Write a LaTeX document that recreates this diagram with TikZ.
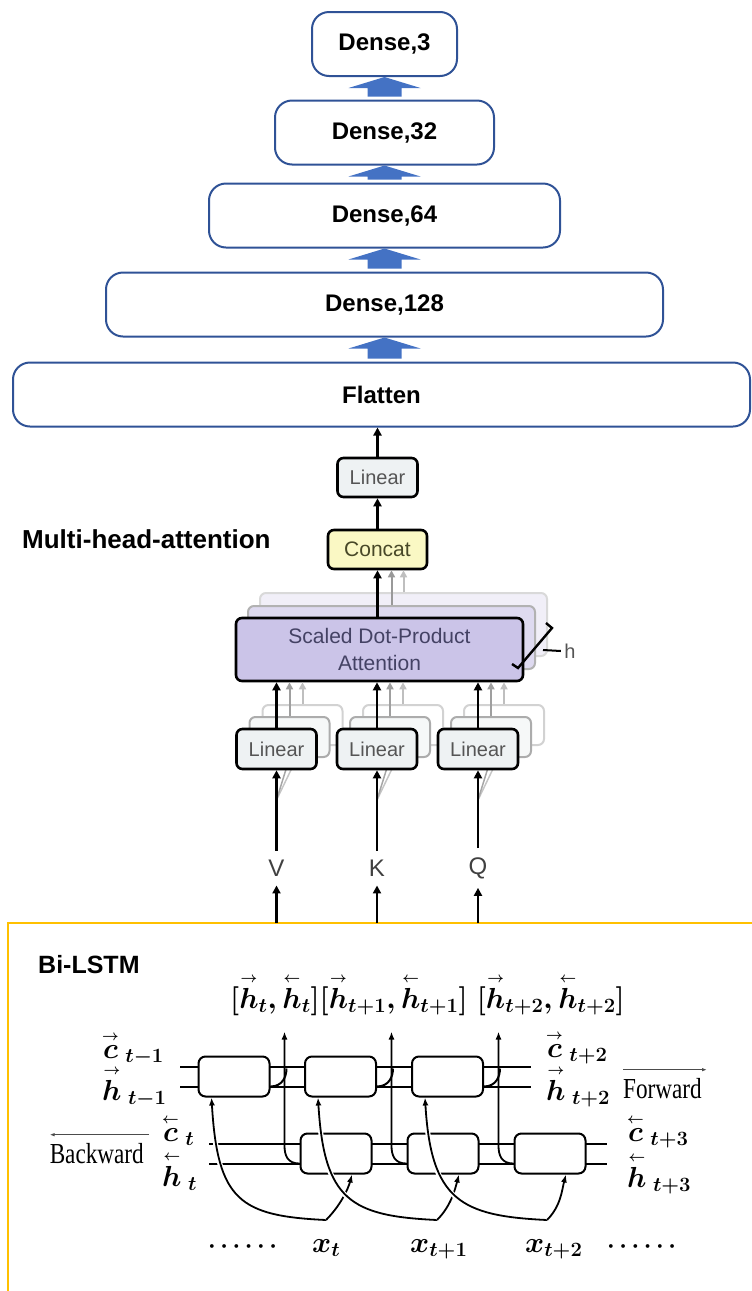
\RequirePackage{fix-cm}
\documentclass[tikz,border=0pt]{standalone}
\usepackage{amsmath}
\usepackage[no-math]{fontspec}
\newfontfamily\arialfont{Liberation Sans}
\newfontfamily\serifcond[FakeStretch=0.8]{Liberation Serif}
\usetikzlibrary{positioning,calc,arrows.meta}

\definecolor{densebord}{RGB}{47,82,150}
\definecolor{arrblue}{RGB}{68,114,196}
\definecolor{lstmorange}{RGB}{255,192,0}
\definecolor{attfill}{RGB}{203,196,232}
\definecolor{attfillb}{RGB}{222,218,240}
\definecolor{attfillc}{RGB}{241,239,248}
\definecolor{linfill}{RGB}{238,242,243}
\definecolor{linfillb}{RGB}{246,248,248}
\definecolor{catfill}{RGB}{250,248,196}
\definecolor{lintext}{RGB}{85,85,85}
\definecolor{cattext}{RGB}{72,72,40}
\definecolor{atttext}{RGB}{68,66,100}

% short direction arrows over a letter
\newcommand\fw[1]{{\overset{\scriptscriptstyle\rightarrow}{#1}}}
\newcommand\bw[1]{{\overset{\scriptscriptstyle\leftarrow}{#1}}}

\begin{document}
\begin{tikzpicture}[x=1pt,y=-1pt,on grid,
    densebox/.style={draw=densebord,line width=2pt,rounded corners=17pt,minimum height=64pt,inner sep=0pt,
      font=\arialfont\bfseries\fontsize{24}{28}\selectfont},
    tbox/.style={draw,line width=2.6pt,rounded corners=6pt,inner sep=0pt},
    linbox/.style={tbox,fill=linfill,minimum width=80pt,minimum height=40pt,text=lintext,
      font=\arialfont\fontsize{20}{24}\selectfont},
    attbox/.style={tbox,fill=attfill,minimum width=287pt,minimum height=63pt,align=center,text=atttext,
      font=\arialfont\fontsize{21}{27}\selectfont},
    backone/.style={draw=gray!60,line width=2pt,fill=attfillb},
    backtwo/.style={draw=gray!30,line width=2pt,fill=attfillc},
    linone/.style={draw=gray!65,line width=2pt,fill=linfillb},
    lintwo/.style={draw=gray!35,line width=2pt,fill=white},
    vkq/.style={inner sep=9pt,text=black!75,font=\arialfont\fontsize{24}{28}\selectfont},
    tarrow/.style={line width=2.4pt,-{Triangle[length=8pt,width=8pt]}},
    garrow/.style={line width=2pt,-{Triangle[length=7pt,width=7pt]}},
    lstmcell/.style={draw,fill=white,line width=2pt,rounded corners=7pt,minimum width=71pt,minimum height=40pt},
    lline/.style={line width=2pt},
    inarrow/.style={line width=1.8pt,-{Latex[length=8pt,width=6pt]},
      preaction={draw=white,line width=5pt,-,shorten >=12pt}},
    oarrow/.style={line width=1.8pt,-{Latex[length=8pt,width=6pt]}},
    mathlab/.style={inner sep=0pt,font=\fontsize{29}{34}\selectfont\boldmath},
    dirlab/.style={inner sep=0pt,font=\serifcond\fontsize{29}{34}\selectfont},
    dirarrow/.style={line width=1.3pt,draw=black!70,-{Latex[length=5pt,width=3.5pt]}},
    title/.style={inner sep=0pt,font=\arialfont\bfseries\fontsize{26}{30}\selectfont}]
\useasboundingbox (0,0) rectangle (752,1291);

% dense head
\node[densebox,minimum width=737pt] (flat) at (381.5,394.5) {Flatten};
\node[densebox,minimum width=557pt,above=90pt of flat,xshift=3pt] (d128) {Dense,128};
\node[densebox,minimum width=351pt,above=89pt of d128] (d64) {Dense,64};
\node[densebox,minimum width=219pt,above=83pt of d64] (d32) {Dense,32};
\node[densebox,minimum width=145pt,above=88.5pt of d32] (d3) {Dense,3};
\foreach \lo/\hi in {flat/d128,d128/d64,d64/d32,d32/d3}
  \fill[arrblue] ($(\hi.south |- \lo.north)+(-17,-3)$) -- ($(\hi.south)+(-17,11)$)
    -- ($(\hi.south)+(-36,11)$) -- (\hi.south) -- ($(\hi.south)+(36,11)$)
    -- ($(\hi.south)+(17,11)$) -- ($(\hi.south |- \lo.north)+(17,-3)$) -- cycle;

% multi-head attention
\node[title,anchor=base west] (mha) at (22,548) {Multi-head-attention};
\coordinate (attc) at (379.5,649.5);
\node[attbox,backtwo] (att2) at ($(attc)+(24,-25)$) {};
\node[attbox,backone] (att1) at ($(attc)+(12,-12)$) {};
\node[attbox] (att) at (attc) {Scaled Dot-Product\\Attention};
\node[tbox,fill=catfill,minimum width=99pt,minimum height=39pt,text=cattext,
  font=\arialfont\fontsize{21}{25}\selectfont,above=100pt of att,xshift=-2pt] (concat) {Concat};
\node[linbox,minimum height=39pt,above=72pt of concat] (lintop) {Linear};

\draw[tarrow] (lintop.north) -- (lintop.north |- flat.south);
\draw[tarrow] (concat.north) -- (concat.north |- lintop.south);
\draw[garrow,gray!50] (att2.north) -- (att2.north |- concat.south);
\draw[garrow,gray!80] (att1.north) -- (att1.north |- concat.south);
\draw[tarrow] (concat.south |- att.north) -- (concat.south);

% h heads
\draw[line width=2.4pt] (546,623) -- (552,628) -- (518,668) -- (512,664);
\node[text=lintext,font=\arialfont\fontsize{20}{24}\selectfont] (hnum) at (570,651) {h};
\draw[line width=2pt] (543,650) -- (hnum.west);

% bi-lstm frame
\coordinate (lstmtop) at (0,923);
\draw[lstmorange,line width=2.2pt] (752,923) -- (8,923) -- (8,1291);

\foreach \n/\x in {V/276.5,K/377,Q/478} {
  \node[linbox,lintwo] (lin\n2) at (\x+26,725) {};
  \node[linbox,linone] (lin\n1) at (\x+13,737) {};
  \draw[gray!45,line width=1.5pt] (\x,800) -- (lin\n2.south);
  \draw[gray!70,line width=1.5pt] (\x,800) -- (lin\n1.south);
  \node[linbox] (lin\n) at (\x,749) {Linear};
  \node[vkq] (lab\n) at (\x,868) {\n};
  \draw[tarrow] (lab\n.north) -- (lin\n.south);
  \draw[garrow,gray!50] (lin\n2.north) -- (lin\n2.north |- att.south);
  \draw[garrow,gray!75] (lin\n1.north) -- (lin\n1.north |- att.south);
  \draw[tarrow] (lin\n.north) -- (lin\n.north |- att.south);
  \draw[tarrow] (lab\n |- lstmtop) -- (lab\n.south);
}

% bi-lstm
\node[title,font=\arialfont\bfseries\fontsize{25}{30}\selectfont,anchor=base west] (bilstm) at (38,973) {Bi-LSTM};
\coordinate (fin) at (180,1076.5);
\coordinate (fout) at (531,1076.5);
\coordinate (bin) at (209,1153.5);
\coordinate (bout) at (607,1153.5);
\foreach \d in {-10,10} {
  \draw[lline] ($(fin)+(0,\d)$) -- ($(fout)+(0,\d)$);
  \draw[lline] ($(bin)+(0,\d)$) -- ($(bout)+(0,\d)$);
}
\node[lstmcell] (f1) at (234,1076.5) {};
\node[lstmcell,right=106.5pt of f1] (f2) {};
\node[lstmcell,right=107pt of f2] (f3) {};
\node[lstmcell] (b1) at (336,1153.5) {};
\node[lstmcell,right=107pt of b1] (b2) {};
\node[lstmcell,right=107pt of b2] (b3) {};

\node[mathlab,anchor=base] (hcat) at (427.5,1008)
  {$[\fw{h}_t,\bw{h}_t][\fw{h}_{t+1},\bw{h}_{t+1}]\;[\fw{h}_{t+2},\bw{h}_{t+2}]$};

\node[mathlab,anchor=base west] (cfa) at (102,1058) {$\fw{c}_{\;t-1}$};
\node[mathlab,anchor=base west] (hfa) at (102,1100) {$\fw{h}_{\;t-1}$};
\node[mathlab,anchor=base west] (cba) at (162,1141) {$\bw{c}_{\;t}$};
\node[mathlab,anchor=base west] (hba) at (162,1186) {$\bw{h}_{\;t}$};
\node[mathlab,anchor=base west] (cfb) at (546,1057) {$\fw{c}_{\;t+2}$};
\node[mathlab,anchor=base west] (hfb) at (546,1100) {$\fw{h}_{\;t+2}$};
\node[mathlab,anchor=base west] (cbb) at (627,1141) {$\bw{c}_{\;t+3}$};
\node[mathlab,anchor=base west] (hbb) at (627,1187) {$\bw{h}_{\;t+3}$};

\node[dirlab,anchor=base west] (fwd) at (623,1098) {Forward};
\draw[dirarrow] ([yshift=8pt]fwd.north west) -- ([yshift=8pt,xshift=5pt]fwd.north east);
\node[dirlab,anchor=base east] (bwd) at (144,1163) {Backward};
\draw[dirarrow] ([yshift=8pt,xshift=5pt]bwd.north east) -- ([yshift=8pt]bwd.north west);

\node[mathlab,font=\fontsize{24}{28}\selectfont\boldmath,anchor=base] (dl) at (245,1252) {$\cdots\cdots$};
\node[mathlab,anchor=base west] (x1) at (312,1252) {$x_t$};
\node[mathlab,anchor=base west] (x2) at (410,1252) {$x_{t+1}$};
\node[mathlab,anchor=base west] (x3) at (525,1252) {$x_{t+2}$};
\node[mathlab,font=\fontsize{24}{28}\selectfont\boldmath,anchor=base] (dr) at (644,1252) {$\cdots\cdots$};

\coordinate (a1) at (326,1220);
\coordinate (a2) at (437,1220);
\coordinate (a3) at (547,1220);

\foreach \i in {1,2,3} {
  \coordinate (o\i) at ($(b\i.west)+(-15,-122)$);
  \draw[inarrow] (a\i) .. controls +(-86,-4) and +(6,103) .. ($(f\i.south west)+(14,0)$);
  \draw[inarrow] (a\i) .. controls +(14,-14) and +(-4,15) .. ($(b\i.south)+(16,0)$);
  \draw[lline] ($(f\i.east)+(0,10)$) .. controls +(12,0) and +(0,8) .. ($(f\i.east)+(16,-8)$);
  \draw[oarrow] ($(b\i.west)+(0,10)$) .. controls +(-12,0) and +(0,10) .. ($(b\i.west)+(-15,-8)$) -- (o\i);
}
\end{tikzpicture}
\end{document}
